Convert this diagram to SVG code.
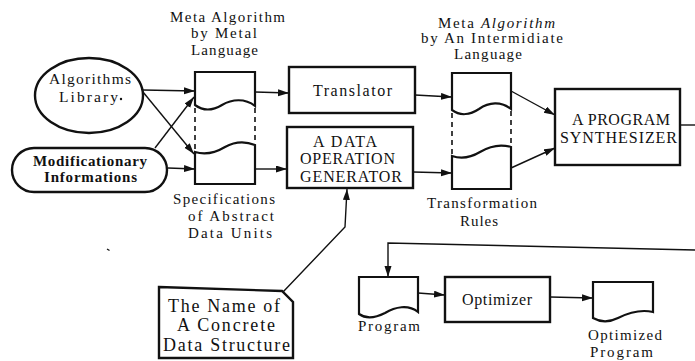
<svg xmlns="http://www.w3.org/2000/svg" width="695" height="361" viewBox="0 0 695 361" font-family="'Liberation Serif', 'Times New Roman', serif">
  <defs>
    <marker id="arrow" markerUnits="userSpaceOnUse" markerWidth="12" markerHeight="8" refX="11" refY="3.5" orient="auto">
      <path d="M0,0 L11,3.5 L0,7 Z" fill="#111"/>
    </marker>
    <style>
      .box { fill: #fff; stroke: #111; stroke-width: 2.4; }
      .doc { fill: #fff; stroke: #111; stroke-width: 2.2; stroke-linejoin: miter; }
      .dash { fill: none; stroke: #111; stroke-width: 1.6; stroke-dasharray: 5 4; }
      .conn { fill: none; stroke: #111; stroke-width: 1.4; }
      .arr { marker-end: url(#arrow); }
      text { font-family: "Liberation Serif", "Times New Roman", serif; fill: #111; }
      .lbl { font-size: 15px; }
      .in { font-size: 16px; }
      .big { font-size: 15.5px; }
    </style>
  </defs>

  <rect width="695" height="361" fill="#fff"/>

  <!-- connectors -->
  <g id="connectors">
    <line class="conn arr" x1="143" y1="90" x2="195" y2="91"/>
    <line class="conn arr" x1="143" y1="92" x2="194" y2="154"/>
    <line class="conn arr" x1="155" y1="148" x2="194" y2="97"/>
    <line class="conn arr" x1="168" y1="168" x2="195" y2="169"/>
    <line class="conn arr" x1="255" y1="92" x2="289" y2="93"/>
    <line class="conn arr" x1="255" y1="169" x2="287" y2="169"/>
    <line class="conn arr" x1="415" y1="95" x2="452" y2="97"/>
    <line class="conn arr" x1="413" y1="172" x2="452" y2="173"/>
    <line class="conn arr" x1="511" y1="91" x2="555" y2="115"/>
    <line class="conn arr" x1="511" y1="168" x2="555" y2="148"/>
    <polyline class="conn arr" points="283,292 345,227 347,189"/>
    <line class="conn" x1="680" y1="125" x2="695" y2="125"/>
    <polyline class="conn arr" points="695,250 388,243 388,277"/>
    <line class="conn arr" x1="418" y1="293" x2="445" y2="295"/>
    <line class="conn arr" x1="550" y1="297" x2="593" y2="298"/>
  </g>

  <!-- Algorithms Library -->
  <g id="algorithms-library">
    <ellipse class="box" cx="89" cy="95.5" rx="54" ry="37.5"/>
    <text class="big" x="49" y="84" textLength="82" lengthAdjust="spacing">Algorithms</text>
    <text class="big" x="59" y="102" textLength="59" lengthAdjust="spacing">Library</text>
    <circle cx="121" cy="99" r="1.2" fill="#111"/>
  </g>

  <!-- Modificationary Informations -->
  <g id="modificationary-informations">
    <rect class="box" x="12" y="148" width="155" height="44" rx="22" ry="22"/>
    <text class="lbl" font-weight="bold" x="33" y="166" textLength="114" lengthAdjust="spacing">Modificationary</text>
    <text class="lbl" font-weight="bold" x="44" y="182" textLength="93" lengthAdjust="spacing">Informations</text>
  </g>

  <!-- Meta Algorithm by Metal Language / Specifications of Abstract Data Units -->
  <g id="metal-docs">
    <text class="lbl" x="170" y="22" textLength="115" lengthAdjust="spacing">Meta Algorithm</text>
    <text class="lbl" x="191" y="38" textLength="66" lengthAdjust="spacing">by Metal</text>
    <text class="lbl" x="191" y="55" textLength="67" lengthAdjust="spacing">Language</text>
    <path class="doc" d="M195,72 H255 V106 C245,98 232,99 222,105 C212,111 203,111 195,105 Z"/>
    <line class="dash" x1="195" y1="108" x2="195" y2="151"/>
    <line class="dash" x1="255" y1="108" x2="255" y2="144"/>
    <path class="doc" d="M195,184 H255 V145 C245,141 234,142 225,147 C215,153 205,155 195,152 Z"/>
    <text class="lbl" x="173" y="204" textLength="102" lengthAdjust="spacing">Specifications</text>
    <text class="lbl" x="188" y="221" textLength="86" lengthAdjust="spacing">of Abstract</text>
    <text class="lbl" x="188" y="238" textLength="84" lengthAdjust="spacing">Data Units</text>
    <path d="M107,249 l2.5,1.5" stroke="#111" stroke-width="1.3"/>
  </g>

  <!-- Translator -->
  <g id="translator">
    <rect class="box" x="289" y="67" width="126" height="46"/>
    <text class="in" x="313" y="96" textLength="79" lengthAdjust="spacing">Translator</text>
  </g>

  <!-- A Data Operation Generator -->
  <g id="data-operation-generator">
    <rect class="box" x="287" y="127" width="126" height="61"/>
    <text class="in" x="313" y="147" textLength="64" lengthAdjust="spacing">A DATA</text>
    <text class="in" x="300" y="164" textLength="95" lengthAdjust="spacing">OPERATION</text>
    <text class="in" x="300" y="182" textLength="102" lengthAdjust="spacing">GENERATOR</text>
  </g>

  <!-- Meta Algorithm by An Intermidiate Language / Transformation Rules -->
  <g id="intermediate-docs">
    <text class="lbl" x="438" y="28" textLength="117" lengthAdjust="spacing">Meta <tspan font-style="italic">Algorithm</tspan></text>
    <text class="lbl" x="421" y="43" textLength="142" lengthAdjust="spacing">by An Intermidiate</text>
    <text class="lbl" x="454" y="59" textLength="68" lengthAdjust="spacing">Language</text>
    <path class="doc" d="M452,73 H511 V109 C501,101 489,102 479,109 C470,115 460,116 452,110 Z"/>
    <line class="dash" x1="452" y1="113" x2="452" y2="154"/>
    <line class="dash" x1="511" y1="111" x2="511" y2="146"/>
    <path class="doc" d="M452,189 H511 V147 C501,144 490,146 480,152 C470,158 461,159 452,156 Z"/>
    <text class="lbl" x="427" y="208" textLength="110" lengthAdjust="spacing">Transformation</text>
    <text class="lbl" x="460" y="226" textLength="38" lengthAdjust="spacing">Rules</text>
  </g>

  <!-- A Program Synthesizer -->
  <g id="program-synthesizer">
    <rect class="box" x="555" y="89" width="125" height="76"/>
    <text class="in" x="572" y="125" textLength="98" lengthAdjust="spacing">A PROGRAM</text>
    <text class="in" x="560" y="143" textLength="117" lengthAdjust="spacing">SYNTHESIZER</text>
  </g>

  <!-- The Name of A Concrete Data Structure -->
  <g id="concrete-data-structure">
    <path class="box" d="M159,287 L282,291 L293,302 L293,358 L159,358 Z"/>
    <text font-size="18" x="168" y="312" textLength="112" lengthAdjust="spacing">The Name of</text>
    <text font-size="18" x="177" y="331" textLength="98" lengthAdjust="spacing">A Concrete</text>
    <text font-size="18" x="163" y="351" textLength="127" lengthAdjust="spacing">Data Structure</text>
  </g>

  <!-- Program -->
  <g id="program">
    <path class="doc" d="M359,277 H418 V312 C408,304 395,307 385,313 C375,318 366,319 359,314 Z"/>
    <text class="lbl" x="358" y="331" textLength="62" lengthAdjust="spacing">Program</text>
  </g>

  <!-- Optimizer -->
  <g id="optimizer">
    <rect class="box" x="445" y="277" width="105" height="45"/>
    <text class="in" x="462" y="305" textLength="70" lengthAdjust="spacing">Optimizer</text>
  </g>

  <!-- Optimized Program -->
  <g id="optimized-program">
    <path class="doc" d="M593,282 H653 V312 C640,309 628,313 618,318 C608,323 600,322 593,318 Z"/>
    <text class="lbl" x="588" y="340" textLength="74" lengthAdjust="spacing">Optimized</text>
    <text class="lbl" x="590" y="357" textLength="63" lengthAdjust="spacing">Program</text>
  </g>
</svg>
